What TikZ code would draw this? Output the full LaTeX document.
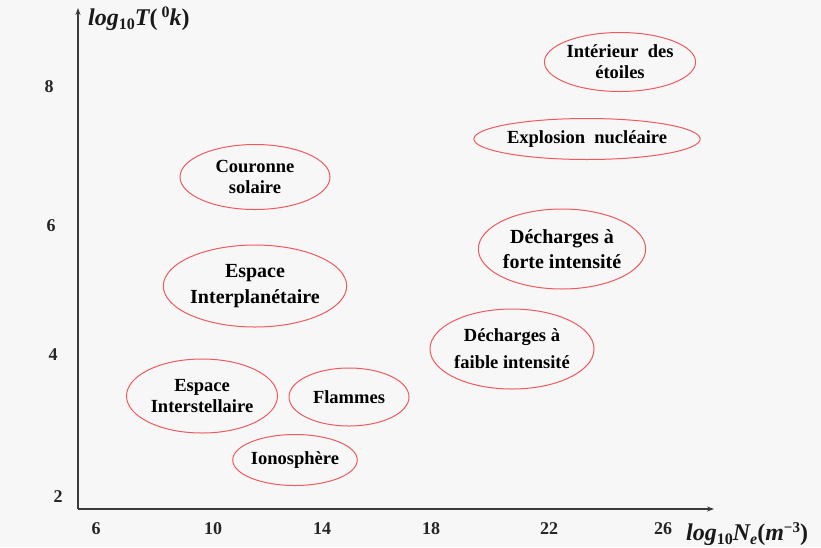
\documentclass[tikz,border=0pt]{standalone}
\usepackage{fontspec}
\setmainfont{Liberation Serif}
\usetikzlibrary{shapes.geometric,arrows.meta}
\definecolor{bg}{HTML}{F7F7F7}
\definecolor{ellred}{HTML}{EE5A5E}
\definecolor{axis}{HTML}{3A3A3A}
\tikzset{
  region/.style={ellipse, draw=ellred, line width=1pt, inner sep=0pt, align=center,
    font=\fontsize{18.5}{21}\selectfont\bfseries, text=black},
  tick/.style={font=\fontsize{18}{20}\selectfont\bfseries, text=black!85, inner sep=0pt},
  axlabel/.style={font=\fontsize{24}{26}\selectfont\bfseries\itshape, text=black!90, inner sep=0pt},
  axline/.style={draw=axis, line width=1.1pt, -{Stealth[length=7pt,width=5pt]}}
}
\begin{document}
\begin{tikzpicture}[x=1pt,y=-1pt]
\fill[bg] (0,0) rectangle (821,547);
\useasboundingbox (0,0) rectangle (821,547);
% axes
\coordinate (O) at (78,509);
\coordinate (ytop) at (78,8);
\coordinate (xend) at (714,509);
\draw[axline] (O) -- (ytop);
\draw[axline] (O) -- (xend);
% axis labels
\node[axlabel, anchor=west] (ylab) at (88,19) {log\raisebox{-0.35ex}{\upshape\fontsize{16}{16}\selectfont 10}T\upshape(\,\raisebox{0.7ex}{\fontsize{16}{16}\selectfont 0}\itshape k\upshape)};
\node[axlabel, anchor=west] (xlab) at (686,534) {log\raisebox{-0.35ex}{\upshape\fontsize{16}{16}\selectfont 10}N\raisebox{-0.35ex}{\fontsize{16}{16}\selectfont e}\upshape(\itshape m\raisebox{0.7ex}{\upshape\fontsize{15}{15}\selectfont −3}\upshape)};
% y ticks
\node[tick] (y8) at (49,87) {8};
\node[tick] (y6) at (51,226) {6};
\node[tick] (y4) at (53,355) {4};
\node[tick] (y2) at (58,497) {2};
% x ticks
\node[tick] (x6) at (96,529) {6};
\node[tick] (x10) at (213,529) {10};
\node[tick] (x14) at (322,529) {14};
\node[tick] (x18) at (431,529) {18};
\node[tick] (x22) at (549,529) {22};
\node[tick] (x26) at (663,529) {26};
% regions
\node[region, minimum width=150pt, minimum height=59pt] (etoiles) at (620,62) {Intérieur~~des\\étoiles};
\node[region, minimum width=194pt, minimum height=41pt] (explosion) at (587,139) {Explosion~~nucléaire};
\node[region, minimum width=150pt, minimum height=65pt] (couronne) at (255,177) {Couronne\\solaire};
\node[region, minimum width=158pt, minimum height=80pt, font=\fontsize{20}{25}\selectfont\bfseries] (forte) at (562,249) {Décharges à\\forte intensité};
\node[region, minimum width=180pt, minimum height=82pt, font=\fontsize{20}{26}\selectfont\bfseries] (interplan) at (255,286) {Espace\\Interplanétaire};
\node[region, minimum width=164pt, minimum height=80pt, font=\fontsize{18.5}{27}\selectfont\bfseries] (faible) at (512,349) {Décharges à\\faible intensité};
\node[region, minimum width=151pt, minimum height=74pt] (interstel) at (202,396) {Espace\\Interstellaire};
\node[region, minimum width=120pt, minimum height=58pt] (flammes) at (349,397) {Flammes};
\node[region, minimum width=116pt, minimum height=51pt] (iono) at (295,460) {Ionosphère};
\end{tikzpicture}
\end{document}
